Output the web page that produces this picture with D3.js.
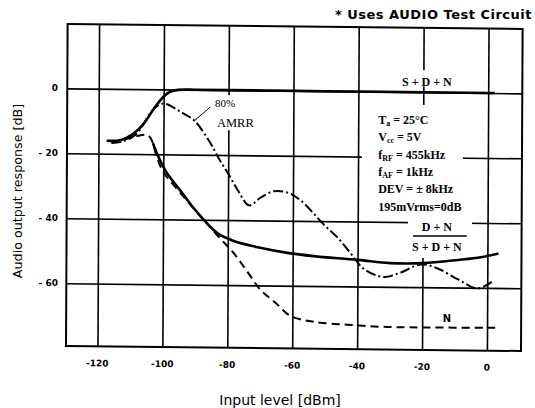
<!DOCTYPE html>
<html>
<head>
<meta charset="utf-8">
<script src="https://cdn.jsdelivr.net/npm/d3@7/dist/d3.min.js"></script>
<style>
  body { margin: 0; background: #fff; }
  svg { display: block; }
</style>
</head>
<body>
<svg id="chart" width="535" height="408"></svg>
<script>
(function() {
    'use strict';

    // tick values
    const xTicks = [-120, -100, -80, -60, -40, -20, 0];
    const yTicks = [0, -20, -40, -60];

    // S+D+N (solid, upper)
    const sdnX = [-117.5, -113, -109, -106, -103, -100, -98, -95.5, -90, -80, -60, -40, -20, 0, 2];
    const sdnY = [-16, -15.7, -13.5, -10.5, -6, -2.2, -0.7, -0.1, 0, 0, 0, 0, 0, 0, 0];

    // 80% AMRR (dash-dot)
    const amrrX = [-116, -113, -108.5, -104, -101.5, -99.5, -94.5, -90.5, -86, -83, -80, -77, -73.5,
                   -70, -66, -61.5, -57.5, -50.5, -46, -42, -38, -32, -27, -20.5, -15.5, -9, -3, 2];
    const amrrY = [-16.7, -16.3, -14, -7.2, -4.8, -4.4, -7, -9.5, -15.6, -20.9, -25.7, -30.8, -35.4,
                   -33, -31, -31.4, -33.8, -41, -45.2, -50, -54.6, -57, -55.7, -53, -54.1, -57.5, -60.2, -57.7];

    // (D+N)/(S+D+N) (solid, lower)
    const dnX = [-103.2, -102.3, -99.2, -94.6, -90.6, -86.2, -82.9, -78.2, -70, -61.6, -53.6, -40, -30, -20, -9, -2, 3.4];
    const dnY = [-16.6, -19, -25.2, -31.2, -36.4, -41.3, -44.3, -46.4, -48.4, -49.9, -50.8, -51.8, -52.7, -52.6, -51.5, -50.6, -49.4];

    // N (dashed)
    const nX = [-116.1, -111.5, -108.4, -104.7, -103.2, -102.3, -100.1, -94.6, -88.4, -82.9, -78.2, -73.9,
                -69.9, -65.3, -60.7, -53.6, -43.1, -32.9, -20.6, 2.5];
    const nY = [-16.4, -15.4, -14.5, -14.2, -16.6, -20, -25.2, -31.9, -39, -45.1, -50.1, -55.9,
                -61.3, -65.2, -69.2, -71, -71.8, -72.3, -72.4, -72.2];

    const left = 66, right = 521, top = 24, bottom = 346;
    const svg = d3.select('#chart');

    const x = d3.scaleLinear().domain([-129.7, 10.5]).range([left, right]);
    const y = d3.scaleLinear().domain([-79.3, 19.8]).range([bottom, top]);

    // the printed grid is slightly sheared (scan)
    const ky = 0.011, kx = -0.005;
    const shear = `matrix(1,${ky},${kx},1,${-kx * bottom},${-ky * left})`;

    const gridG = svg.append('g').attr('transform', shear);
    const maskG = svg.append('g');
    const plotG = svg.append('g').attr('transform', shear);
    const noteG = svg.append('g');

    // grid
    gridG.append('g')
        .attr('transform', `translate(0,${bottom})`)
        .call(d3.axisBottom(x).tickValues(xTicks).tickSize(-(bottom - top)).tickSizeOuter(0).tickFormat(''))
        .call(s => s.select('.domain').remove())
        .selectAll('line')
        .attr('stroke', '#000')
        .attr('stroke-width', 1.6);

    gridG.append('g')
        .attr('transform', `translate(${left},0)`)
        .call(d3.axisLeft(y).tickValues(yTicks).tickSize(-(right - left)).tickSizeOuter(0).tickFormat(''))
        .call(s => s.select('.domain').remove())
        .selectAll('line')
        .attr('stroke', '#000')
        .attr('stroke-width', 1.6);

    // white boxes behind annotations (they interrupt the grid)
    const boxes = [
        { x0: -26.8, x1: -9.9, y0: 5.6, y1: 0.6 },      // S+D+N
        { x0: -38.5, x1: -7.4, y0: -5.1, y1: -38.7 },   // conditions block
        { x0: -24.3, x1: -4.6, y0: -38.7, y1: -52.2 },  // D+N / S+D+N
        { x0: -84.7, x1: -69.9, y0: -2.1, y1: -12.9 }   // 80% AMRR
    ];
    maskG.selectAll('rect')
        .data(boxes)
        .enter()
        .append('rect')
        .attr('x', d => x(d.x0))
        .attr('y', d => y(d.y0))
        .attr('width', d => x(d.x1) - x(d.x0))
        .attr('height', d => y(d.y1) - y(d.y0))
        .attr('fill', '#fff');

    // frame
    plotG.append('rect')
        .attr('x', left)
        .attr('y', top)
        .attr('width', right - left)
        .attr('height', bottom - top)
        .attr('fill', 'none')
        .attr('stroke', '#000')
        .attr('stroke-width', 2);

    // tick labels
    plotG.append('g').selectAll('text')
        .data(xTicks)
        .enter()
        .append('text')
        .attr('x', d => x(d))
        .attr('y', bottom + 20)
        .attr('text-anchor', 'middle')
        .style('font-family', 'DejaVu Sans, sans-serif')
        .style('font-size', '9px')
        .style('font-weight', 'bold')
        .text(d => d === 0 ? '0' : '-' + Math.abs(d));

    noteG.append('g').selectAll('text')
        .data(yTicks)
        .enter()
        .append('text')
        .attr('x', left - 8)
        .attr('y', d => y(d))
        .attr('dy', '0.35em')
        .attr('text-anchor', 'end')
        .style('font-family', 'DejaVu Sans, sans-serif')
        .style('font-size', '9px')
        .style('font-weight', 'bold')
        .text(d => d === 0 ? '0' : '- ' + Math.abs(d));

    const line = d3.line()
        .x(d => x(d[0]))
        .y(d => y(d[1]))
        .curve(d3.curveCatmullRom.alpha(0.5));

    const series = [
        { xs: nX, ys: nY, w: 2, dash: '8,5' },
        { xs: amrrX, ys: amrrY, w: 2, dash: '10,3,2,3' },
        { xs: dnX, ys: dnY, w: 2.6, dash: null },
        { xs: sdnX, ys: sdnY, w: 2.6, dash: null }
    ];

    plotG.append('g').selectAll('path')
        .data(series)
        .enter()
        .append('path')
        .attr('d', d => line(d.xs.map((v, i) => [v, d.ys[i]])))
        .attr('fill', 'none')
        .attr('stroke', '#000')
        .attr('stroke-width', d => d.w)
        .attr('stroke-dasharray', d => d.dash);

    const serif = 'Liberation Serif, Times New Roman, serif';

    // S+D+N label
    noteG.append('text')
        .attr('x', x(-18.5))
        .attr('y', y(0.7))
        .attr('text-anchor', 'middle')
        .style('font-family', serif)
        .style('font-size', '12px')
        .style('font-weight', 'bold')
        .text('S + D + N');

    // condition block
    const cond = [
        { main: 'T', sub: 'a', rest: ' = 25°C' },
        { main: 'V', sub: 'cc', rest: ' = 5V' },
        { main: 'f', sub: 'RF', rest: ' = 455kHz' },
        { main: 'f', sub: 'AF', rest: ' = 1kHz' },
        { main: 'DEV = ± 8kHz', sub: '', rest: '' },
        { main: '195mVrms=0dB', sub: '', rest: '' }
    ];
    const condG = noteG.append('g')
        .style('font-family', serif)
        .style('font-size', '12px')
        .style('font-weight', 'bold');
    cond.forEach((c, i) => {
        const t = condG.append('text')
            .attr('x', x(-33.5))
            .attr('y', y(-11 - i * 5.32));
        t.append('tspan').text(c.main);
        if (c.sub) {
            t.append('tspan').attr('dy', 2).style('font-size', '8px').text(c.sub);
            t.append('tspan').attr('dy', -2).text(c.rest);
        }
    });

    // D+N over S+D+N
    noteG.append('text')
        .attr('x', x(-15.4))
        .attr('y', y(-43.9))
        .attr('text-anchor', 'middle')
        .style('font-family', serif)
        .style('font-size', '12px')
        .style('font-weight', 'bold')
        .text('D + N');
    noteG.append('line')
        .attr('x1', x(-22.8))
        .attr('x2', x(-6.2))
        .attr('y1', y(-45.45))
        .attr('y2', y(-45.45))
        .attr('stroke', '#000')
        .attr('stroke-width', 1.3);
    noteG.append('text')
        .attr('x', x(-15.4))
        .attr('y', y(-50.1))
        .attr('text-anchor', 'middle')
        .style('font-family', serif)
        .style('font-size', '12px')
        .style('font-weight', 'bold')
        .text('S + D + N');

    // N label
    noteG.append('text')
        .attr('x', x(-12.3))
        .attr('y', y(-71.9))
        .attr('text-anchor', 'middle')
        .style('font-family', 'DejaVu Sans, sans-serif')
        .style('font-size', '10px')
        .style('font-weight', 'bold')
        .text('N');

    // 80% AMRR label + leader
    noteG.append('text')
        .attr('x', x(-83.8))
        .attr('y', y(-5.8))
        .style('font-family', serif)
        .style('font-size', '11px')
        .text('80%');
    noteG.append('text')
        .attr('x', x(-83.2))
        .attr('y', y(-11.75))
        .style('font-family', serif)
        .style('font-size', '12.5px')
        .text('AMRR');
    noteG.append('line')
        .attr('x1', x(-85.3))
        .attr('y1', y(-5.8))
        .attr('x2', x(-90.3))
        .attr('y2', y(-10.1))
        .attr('stroke', '#000')
        .attr('stroke-width', 1);

    // axis titles
    svg.append('text')
        .attr('transform', `translate(22,${(top + bottom) / 2 + 6}) rotate(-90)`)
        .attr('text-anchor', 'middle')
        .style('font-family', 'DejaVu Sans, sans-serif')
        .style('font-size', '12.7px')
        .text('Audio output response [dB]');

    svg.append('text')
        .attr('x', 280)
        .attr('y', 405)
        .attr('text-anchor', 'middle')
        .style('font-family', 'DejaVu Sans, sans-serif')
        .style('font-size', '14px')
        .text('Input level [dBm]');

    svg.append('text')
        .attr('x', 532)
        .attr('y', 19)
        .attr('text-anchor', 'end')
        .style('font-family', 'DejaVu Sans, sans-serif')
        .style('font-size', '13px')
        .style('font-weight', 'bold')
        .style('letter-spacing', '0.5px')
        .text('* Uses AUDIO Test Circuit');
})();
</script>
</body>
</html>
